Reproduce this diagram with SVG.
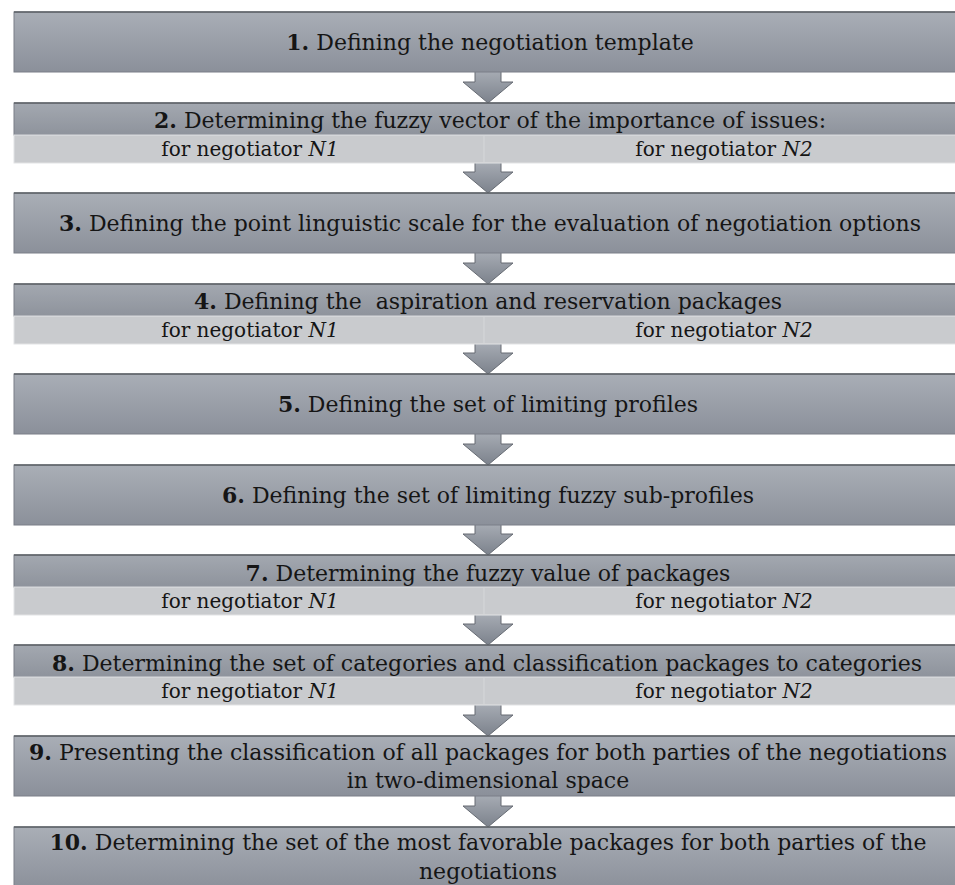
<svg xmlns="http://www.w3.org/2000/svg" width="955" height="885" viewBox="0 0 955 885">
<defs>
<linearGradient id="gBox" x1="0" y1="0" x2="0" y2="1">
<stop offset="0" stop-color="#a9aeb6"/>
<stop offset="1" stop-color="#8b909a"/>
</linearGradient>
<linearGradient id="gHead" x1="0" y1="0" x2="0" y2="1">
<stop offset="0" stop-color="#a3a8b0"/>
<stop offset="1" stop-color="#8e939c"/>
</linearGradient>
<linearGradient id="gArrow" x1="0" y1="0" x2="0" y2="1">
<stop offset="0" stop-color="#a8adb5"/>
<stop offset="1" stop-color="#7c828c"/>
</linearGradient>
<style>
.box{fill:url(#gBox);stroke:#7a7f88;stroke-width:1}
.head{fill:url(#gHead);stroke:#7a7f88;stroke-width:1}
.band{fill:#c9cbce;stroke:#e2e3e5;stroke-width:1}
.topline{stroke:#5c6066;stroke-width:1.5}
.div{stroke:#d6d8da;stroke-width:1}
.t{font-family:"DejaVu Serif","Liberation Serif",serif;font-size:22px;fill:#151515;text-anchor:middle}
.s{font-family:"DejaVu Serif","Liberation Serif",serif;font-size:20px;fill:#151515;text-anchor:middle}
.b{font-weight:bold}
.i{font-style:italic}
.arrow{fill:url(#gArrow);stroke:#666b73;stroke-width:1}
</style>
</defs>
<rect width="955" height="885" fill="#ffffff"/>

<g id="connectors">
<path class="arrow" d="M475,70 L501,70 L501,82 L513,82 L488,103 L463,82 L475,82 Z"/>
<path class="arrow" d="M475,161 L501,161 L501,172 L513,172 L488,193 L463,172 L475,172 Z"/>
<path class="arrow" d="M475,251 L501,251 L501,263 L513,263 L488,284 L463,263 L475,263 Z"/>
<path class="arrow" d="M475,342 L501,342 L501,353 L513,353 L488,374 L463,353 L475,353 Z"/>
<path class="arrow" d="M475,432 L501,432 L501,444 L513,444 L488,465 L463,444 L475,444 Z"/>
<path class="arrow" d="M475,523 L501,523 L501,534 L513,534 L488,555 L463,534 L475,534 Z"/>
<path class="arrow" d="M475,613 L501,613 L501,624 L513,624 L488,645 L463,624 L475,624 Z"/>
<path class="arrow" d="M475,703 L501,703 L501,715 L513,715 L488,736 L463,715 L475,715 Z"/>
<path class="arrow" d="M475,794 L501,794 L501,806 L513,806 L488,827 L463,806 L475,806 Z"/>
</g>

<g id="step1">
<rect class="box" x="14" y="12" width="945" height="60"/>
<line class="topline" x1="14" y1="12" x2="959" y2="12"/>
<text class="t" x="490" y="50"><tspan class="b">1.</tspan> Defining the negotiation template</text>
</g>

<g id="step2">
<rect class="head" x="14" y="103" width="945" height="32"/>
<line class="topline" x1="14" y1="103" x2="959" y2="103"/>
<rect class="band" x="14" y="135" width="945" height="28"/>
<line class="div" x1="484" y1="136" x2="484" y2="162"/>
<text class="t" x="490" y="128"><tspan class="b">2.</tspan> Determining the fuzzy vector of the importance of issues:</text>
<text class="s" x="250" y="156">for negotiator <tspan class="i">N1</tspan></text>
<text class="s" x="724" y="156">for negotiator <tspan class="i">N2</tspan></text>
</g>

<g id="step3">
<rect class="box" x="14" y="193" width="945" height="60"/>
<line class="topline" x1="14" y1="193" x2="959" y2="193"/>
<text class="t" x="490" y="231"><tspan class="b">3.</tspan> Defining the point linguistic scale for the evaluation of negotiation options</text>
</g>

<g id="step4">
<rect class="head" x="14" y="284" width="945" height="32"/>
<line class="topline" x1="14" y1="284" x2="959" y2="284"/>
<rect class="band" x="14" y="316" width="945" height="28"/>
<line class="div" x1="484" y1="317" x2="484" y2="343"/>
<text class="t" x="488" y="309" xml:space="preserve"><tspan class="b">4.</tspan> Defining the  aspiration and reservation packages</text>
<text class="s" x="250" y="337">for negotiator <tspan class="i">N1</tspan></text>
<text class="s" x="724" y="337">for negotiator <tspan class="i">N2</tspan></text>
</g>

<g id="step5">
<rect class="box" x="14" y="374" width="945" height="60"/>
<line class="topline" x1="14" y1="374" x2="959" y2="374"/>
<text class="t" x="488" y="412"><tspan class="b">5.</tspan> Defining the set of limiting profiles</text>
</g>

<g id="step6">
<rect class="box" x="14" y="465" width="945" height="60"/>
<line class="topline" x1="14" y1="465" x2="959" y2="465"/>
<text class="t" x="488" y="503"><tspan class="b">6.</tspan> Defining the set of limiting fuzzy sub-profiles</text>
</g>

<g id="step7">
<rect class="head" x="14" y="555" width="945" height="32"/>
<line class="topline" x1="14" y1="555" x2="959" y2="555"/>
<rect class="band" x="14" y="587" width="945" height="28"/>
<line class="div" x1="484" y1="588" x2="484" y2="614"/>
<text class="t" x="488" y="581"><tspan class="b">7.</tspan> Determining the fuzzy value of packages</text>
<text class="s" x="250" y="608">for negotiator <tspan class="i">N1</tspan></text>
<text class="s" x="724" y="608">for negotiator <tspan class="i">N2</tspan></text>
</g>

<g id="step8">
<rect class="head" x="14" y="645" width="945" height="32"/>
<line class="topline" x1="14" y1="645" x2="959" y2="645"/>
<rect class="band" x="14" y="677" width="945" height="28"/>
<line class="div" x1="484" y1="678" x2="484" y2="704"/>
<text class="t" x="487" y="671"><tspan class="b">8.</tspan> Determining the set of categories and classification packages to categories</text>
<text class="s" x="250" y="698">for negotiator <tspan class="i">N1</tspan></text>
<text class="s" x="724" y="698">for negotiator <tspan class="i">N2</tspan></text>
</g>

<g id="step9">
<rect class="box" x="14" y="736" width="945" height="60"/>
<line class="topline" x1="14" y1="736" x2="959" y2="736"/>
<text class="t" x="488" y="760"><tspan class="b">9.</tspan> Presenting the classification of all packages for both parties of the negotiations</text>
<text class="t" x="488" y="788">in two-dimensional space</text>
</g>

<g id="step10">
<rect class="box" x="14" y="827" width="945" height="62"/>
<line class="topline" x1="14" y1="827" x2="959" y2="827"/>
<text class="t" x="488" y="850"><tspan class="b">10.</tspan> Determining the set of the most favorable packages for both parties of the</text>
<text class="t" x="488" y="879">negotiations</text>
</g>
</svg>
